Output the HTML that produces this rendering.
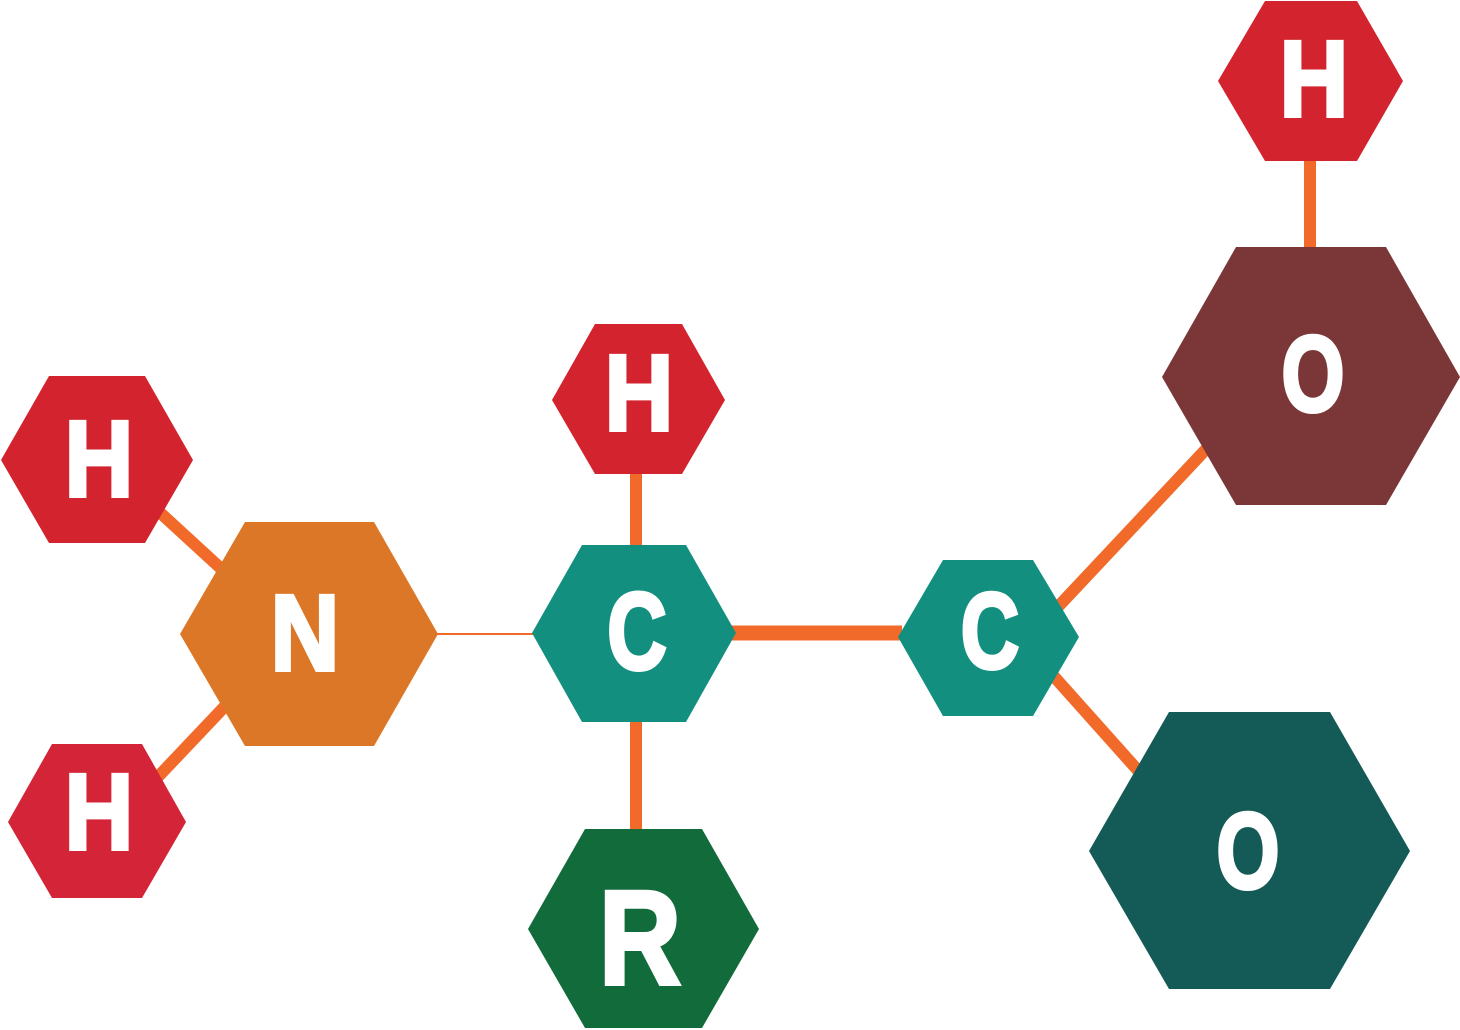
<!DOCTYPE html>
<html><head><style>
html,body{margin:0;padding:0;background:#fff;}
svg{display:block}
text{font-family:"Liberation Sans Narrow","Liberation Sans",sans-serif;font-weight:bold;fill:#fff;stroke:#fff;stroke-width:4;text-anchor:middle;}
</style></head><body>
<svg width="1460" height="1030" viewBox="0 0 1460 1030">
<g stroke="#f26a2a" stroke-width="12" fill="none">
<line x1="1310" y1="155" x2="1310" y2="252"/>
<line x1="1210" y1="445" x2="1055" y2="610"/>
<line x1="1050" y1="672" x2="1142" y2="775"/>
<line x1="730" y1="633" x2="902" y2="633" stroke-width="15"/>
<line x1="636" y1="468" x2="636" y2="550"/>
<line x1="636" y1="716" x2="636" y2="835"/>
<line x1="155" y1="508" x2="228" y2="575"/>
<line x1="228" y1="703" x2="155" y2="780"/>
<line x1="432" y1="634" x2="538" y2="634" stroke-width="2"/>
</g>
<polygon fill="#d2232e" points="1218,81 1265,1 1357,1 1403,81 1357,161 1265,161"/>
<polygon fill="#7b3737" points="1162,377 1236,247 1386,247 1460,377 1386,505 1236,505"/>
<polygon fill="#d2232e" points="552,400 595,324 682,324 725,400 682,474 595,474"/>
<polygon fill="#d2232e" points="1,460 49,376 145,376 193,460 145,543 49,543"/>
<polygon fill="#dc7727" points="180,634 245,522 374,522 438,634 374,746 245,746"/>
<polygon fill="#138f80" points="532,633 582,545 686,545 736,633 686,722 582,722"/>
<polygon fill="#138f80" points="898,637 943,560 1033,560 1079,637 1033,716 943,716"/>
<polygon fill="#d42437" points="8,822 52,744 142,744 186,822 142,898 52,898"/>
<polygon fill="#126b3a" points="528,929 585,829 702,829 759,929 702,1028 585,1028"/>
<polygon fill="#145a56" points="1089,851 1169,712 1330,712 1410,851 1330,989 1169,989"/>
<g transform="translate(1314,0) scale(0.88,1)"><text x="0" y="116" font-size="108">H</text></g>
<g transform="translate(1313,0) scale(0.75,1)"><text x="0" y="411" font-size="108">O</text></g>
<g transform="translate(639,0) scale(0.88,1)"><text x="0" y="430" font-size="108">H</text></g>
<g transform="translate(99,0) scale(0.88,1)"><text x="0" y="496" font-size="108">H</text></g>
<g transform="translate(305,0) scale(0.88,1)"><text x="0" y="670" font-size="108">N</text></g>
<g transform="translate(637,0) scale(0.75,1)"><text x="0" y="669" font-size="110">C</text></g>
<g transform="translate(990,0) scale(0.75,1)"><text x="0" y="668" font-size="108">C</text></g>
<g transform="translate(99,0) scale(0.88,1)"><text x="0" y="849" font-size="108">H</text></g>
<g transform="translate(640,0) scale(0.85,1)"><text x="0" y="984" font-size="134">R</text></g>
<g transform="translate(1248,0) scale(0.75,1)"><text x="0" y="888" font-size="108">O</text></g>
</svg>
</body></html>
